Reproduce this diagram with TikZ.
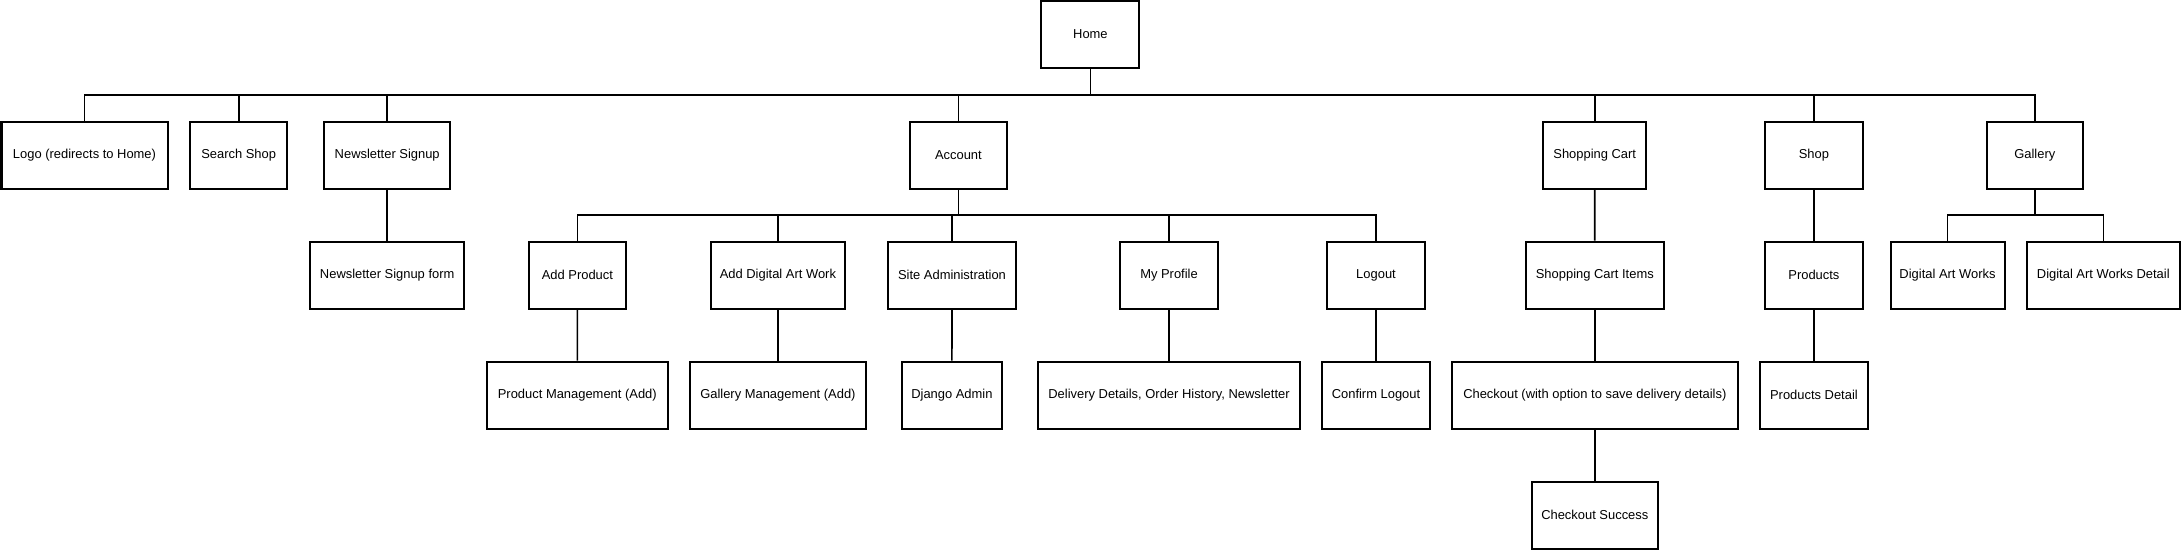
\documentclass[tikz,border=0pt]{standalone}
\usepackage{fontspec}
\setmainfont{Liberation Sans}
\newcommand\mybox[5]{\node[box,minimum width=#4*0.75pt] (#1) at (#2,#3) {#5};}
\begin{document}
\begin{tikzpicture}[x=0.75pt,y=-0.75pt,
  box/.style={draw=black, line width=1.5pt, rectangle, minimum height=67*0.75pt, inner sep=0pt, fill=white,
    font=\fontsize{9.7}{11}\selectfont, text=black},
  conn/.style={draw=black, line width=1.2pt}]
\useasboundingbox (0,0) rectangle (2181,550);
% level y: home 34.5, L1 155, L2 275, L3 395, L4 515
\coordinate (b1) at (0,95);
\coordinate (b2) at (0,215);
\mybox{home}{1090.4}{34.5}{98}{Home}
\mybox{logo}{84.5}{155}{166}{Logo (redirects to Home)}
\mybox{search}{238.7}{155}{97.5}{Search Shop}
\mybox{news}{387.2}{155}{125.7}{Newsletter Signup}
\mybox{account}{958.4}{155}{97.2}{Account}
\mybox{cart}{1594.7}{155}{102.6}{Shopping Cart}
\mybox{shop}{1813.9}{155}{97.7}{Shop}
\mybox{gallery}{2034.8}{155}{96.6}{Gallery}
\mybox{newsform}{387.2}{275}{154.3}{Newsletter Signup form}
\mybox{addprod}{577.4}{275}{97.4}{Add Product}
\mybox{addart}{777.9}{275}{134.3}{Add Digital Art Work}
\mybox{siteadmin}{952}{275}{127.5}{Site Administration}
\mybox{myprofile}{1169}{275}{98}{My Profile}
\mybox{logout}{1376}{275}{98}{Logout}
\mybox{cartitems}{1594.8}{275}{138.5}{Shopping Cart Items}
\mybox{products}{1813.9}{275}{97.7}{Products}
\mybox{dartworks}{1947.5}{275}{114}{Digital Art Works}
\mybox{dartdetail}{2103.3}{275}{152.5}{Digital Art Works Detail}
\mybox{prodmgmt}{577.3}{395}{180.7}{Product Management (Add)}
\mybox{gallmgmt}{777.9}{395}{175.7}{Gallery Management (Add)}
\mybox{django}{951.9}{395}{100}{Django Admin}
\mybox{delivery}{1169}{395}{262}{Delivery Details, Order History, Newsletter}
\mybox{confirm}{1376}{395}{107.6}{Confirm Logout}
\mybox{checkout}{1594.8}{395}{286}{Checkout (with option to save delivery details)}
\mybox{proddetail}{1813.9}{395}{107.7}{Products Detail}
\mybox{success}{1594.8}{515}{126.5}{Checkout Success}
% home children
\foreach \c in {logo,search,news,account,cart,shop,gallery}
  \draw[conn] (home.south) |- (\c.north |- b1) -- (\c.north);
% account children
\foreach \c in {addprod,addart,siteadmin,myprofile,logout}
  \draw[conn] (account.south) |- (\c.north |- b2) -- (\c.north);
% gallery children
\foreach \c in {dartworks,dartdetail}
  \draw[conn] (gallery.south) |- (\c.north |- b2) -- (\c.north);
% chains
\draw[conn] (news) -- (newsform);
\draw[conn] (addprod) -- (prodmgmt);
\draw[conn] (addart) -- (gallmgmt);
\draw[conn] (siteadmin) -- (django);
\draw[conn] (myprofile) -- (delivery);
\draw[conn] (logout) -- (confirm);
\draw[conn] (cart) -- (cartitems);
\draw[conn] (cartitems) -- (checkout);
\draw[conn] (checkout) -- (success);
\draw[conn] (shop) -- (products);
\draw[conn] (products) -- (proddetail);
\end{tikzpicture}
\end{document}
